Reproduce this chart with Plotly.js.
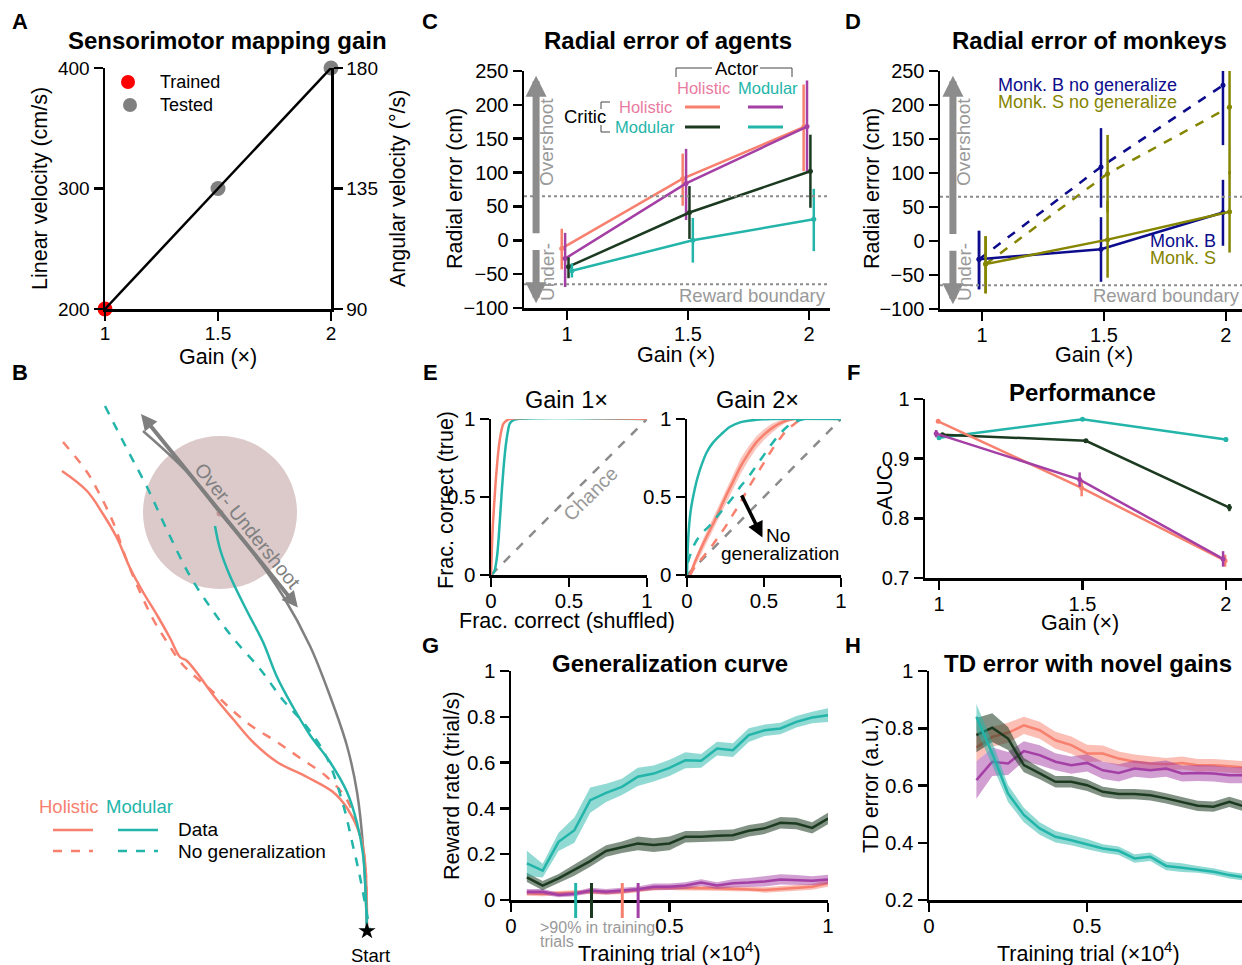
<!DOCTYPE html>
<html><head><meta charset="utf-8">
<script src="https://cdn.plot.ly/plotly-3.0.1.min.js"></script>
<style>body{margin:0;background:#fff}#plot{width:1242px;height:965px}</style>
</head><body><div id="plot"></div>
<script>
// ================= DATA =================
// Panel A
const gainA = [1, 1.5, 2];
const linVel = [200, 300, 400];
const angVel = [90, 135, 180];
const trainedGain = [1], trainedVel = [200];
const testedGain = [1.5, 2], testedVel = [300, 400];

// Panel B (trajectories, figure pixel space)
const holDataX = [62,87,103,117,130,143,157,170,180,187,217,233,253,277,307,333,347,360,365,367];
const holDataY = [471,491,514,538,568,592,615,638,657,661,700,719,742,762,777,792,808,835,862,931];
const holNoGenX = [63,87,100,113,127,140,153,167,183,213,233,253,277,300,327,347,360,365,367];
const holNoGenY = [442,472,495,522,561,592,619,642,665,692,711,727,742,758,777,800,835,862,931];
const modDataX = [215,220,230,247,263,277,293,310,330,347,357,363,367];
const modDataY = [526,549,576,611,642,677,707,735,762,792,823,854,931];
const modNoGenX = [105,127,147,167,190,213,233,260,283,307,327,343,353,360,370];
const modNoGenY = [406,449,487,530,576,611,638,669,700,727,758,804,846,877,931];
const targetX = [143,187,220,253,283,310,330,347,357,363,367];
const targetY = [431,472,513,553,596,646,696,746,792,846,931];

// Panel C: radial error of agents (mean, upper, lower)
const gains = [1, 1.5, 2];
const agHH = [-12, 91, 167], agHH_up = [17, 128, 230], agHH_lo = [-43, 51, 102];
const agMH = [-27, 84, 168], agMH_up = [11, 135, 236], agMH_lo = [-69, 30, 100];
const agHM = [-39, 41, 102], agHM_up = [-25, 80, 156], agHM_lo = [-56, 2, 48];
const agMM = [-45, 0, 31], agMM_up = [-34, 33, 76], agMM_lo = [-55, -33, -16];

// Panel D: monkeys
const mkBnoGen = [-27, 109, 229], mkBnoGen_up = [15, 166, 262], mkBnoGen_lo = [-71, 49, 141];
const mkSnoGen = [-34, 99, 197], mkSnoGen_up = [7, 156, 262], mkSnoGen_lo = [-77, 42, 98];
const mkB = [-27, -12, 42], mkB_up = [15, 35, 90], mkB_lo = [-71, -60, -7];
const mkS = [-34, 2, 43], mkS_up = [7, 59, 103], mkS_lo = [-77, -54, -17];

// Panel E: ROC curves
const g1HolX = [0,0.005,0.01,0.02,0.03,0.04,0.05,0.06,0.07,0.08,0.1,0.12,1];
const g1HolY = [0,0.15,0.28,0.45,0.6,0.72,0.82,0.89,0.94,0.97,0.99,1,1];
const g1ModX = [0,0.02,0.03,0.04,0.05,0.06,0.07,0.08,0.09,0.1,0.11,0.12,0.14,0.17,1];
const g1ModY = [0,0.02,0.06,0.13,0.25,0.4,0.55,0.68,0.79,0.87,0.93,0.97,0.99,1,1];
const g2ModX = [0,0.003,0.01,0.02,0.03,0.05,0.07,0.1,0.13,0.17,0.22,0.28,0.35,0.45,0.55,1];
const g2ModY = [0,0.12,0.27,0.38,0.45,0.55,0.63,0.72,0.79,0.85,0.9,0.95,0.98,0.995,1,1];
const g2HolX = [0.02,0.05,0.1,0.15,0.2,0.25,0.3,0.35,0.4,0.45,0.5,0.55,0.6,0.65,0.7,1];
const g2HolY = [0,0.08,0.19,0.29,0.39,0.5,0.6,0.7,0.78,0.85,0.9,0.94,0.97,0.99,1,1];
const g2HolErr = [0.01,0.02,0.03,0.035,0.04,0.045,0.05,0.05,0.045,0.04,0.035,0.03,0.02,0.01,0.005,0];
const g2ModNoGenX = [0.005,0.05,0.1,0.15,0.2,0.25,0.3,0.35,0.4,0.45,0.5,0.55,0.6,0.65,0.7,0.76,1];
const g2ModNoGenY = [0.08,0.2,0.27,0.32,0.38,0.44,0.5,0.57,0.63,0.7,0.77,0.84,0.9,0.95,0.98,1,1];
const g2HolNoGenX = [0.02,0.05,0.1,0.15,0.2,0.25,0.3,0.35,0.4,0.45,0.5,0.55,0.6,0.65,0.7,0.75,1];
const g2HolNoGenY = [0,0.05,0.11,0.17,0.24,0.31,0.39,0.47,0.56,0.64,0.72,0.8,0.87,0.93,0.97,1,1];
const chance = [0, 1];

// Panel F: AUC
const aucHH = [0.9626, 0.851, 0.729], aucHH_e = [0.002, 0.014, 0.01];
const aucMM = [0.935, 0.966, 0.932], aucMM_e = [0.002, 0.002, 0.004];
const aucHM = [0.94, 0.93, 0.818], aucHM_e = [0.003, 0.003, 0.006];
const aucMH = [0.942, 0.865, 0.732], aucMH_e = [0.006, 0.012, 0.013];

// Panel G: generalization curve
const genX = [0.05,0.1,0.15,0.2,0.25,0.3,0.35,0.4,0.45,0.5,0.55,0.6,0.65,0.7,0.75,0.8,0.85,0.9,0.95,1.0];
const genMM = [0.16,0.128,0.254,0.305,0.436,0.468,0.494,0.538,0.552,0.577,0.61,0.608,0.661,0.654,0.72,0.741,0.749,0.778,0.797,0.807];
const genMM_e = [0.055,0.03,0.04,0.055,0.055,0.04,0.035,0.04,0.035,0.035,0.035,0.03,0.03,0.03,0.03,0.025,0.025,0.025,0.025,0.03];
const genHM = [0.099,0.063,0.094,0.131,0.17,0.214,0.23,0.247,0.24,0.247,0.276,0.276,0.281,0.283,0.302,0.313,0.337,0.334,0.315,0.356];
const genHM_e = [0.02,0.02,0.02,0.025,0.025,0.025,0.025,0.03,0.03,0.03,0.025,0.025,0.025,0.025,0.025,0.025,0.025,0.025,0.025,0.025];
const genMH = [0.036,0.036,0.022,0.026,0.041,0.036,0.041,0.047,0.058,0.058,0.063,0.076,0.063,0.073,0.076,0.081,0.09,0.087,0.084,0.09];
const genMH_e = [0.012,0.012,0.01,0.01,0.012,0.012,0.012,0.012,0.014,0.014,0.015,0.015,0.015,0.018,0.02,0.022,0.022,0.022,0.02,0.02];
const genHH = [0.029,0.026,0.029,0.033,0.036,0.033,0.036,0.044,0.051,0.054,0.051,0.051,0.051,0.048,0.048,0.044,0.048,0.054,0.058,0.073];
const genHH_e = [0.01,0.01,0.01,0.01,0.01,0.01,0.01,0.01,0.01,0.01,0.01,0.01,0.01,0.01,0.01,0.012,0.012,0.012,0.013,0.015];
const thrX = [0.204, 0.254, 0.351, 0.401];   // >90% in training trials: MM, HM, HH, MH

// Panel H: TD error
const tdX = [0.15,0.2,0.25,0.3,0.35,0.4,0.45,0.5,0.55,0.6,0.65,0.7,0.75,0.8,0.85,0.9,0.95,1.0];
const tdMM = [0.84,0.712,0.572,0.497,0.45,0.421,0.409,0.395,0.38,0.372,0.345,0.351,0.319,0.313,0.307,0.299,0.287,0.279];
const tdMM_e = [0.045,0.04,0.03,0.025,0.022,0.02,0.018,0.018,0.015,0.015,0.015,0.015,0.015,0.015,0.012,0.012,0.012,0.012];
const tdHM = [0.776,0.802,0.764,0.671,0.642,0.613,0.613,0.601,0.578,0.57,0.57,0.566,0.555,0.543,0.529,0.526,0.543,0.526];
const tdHM_e = [0.06,0.05,0.04,0.025,0.02,0.02,0.02,0.02,0.018,0.018,0.018,0.018,0.018,0.018,0.018,0.018,0.018,0.018];
const tdHH = [0.733,0.77,0.784,0.81,0.793,0.758,0.741,0.712,0.712,0.694,0.683,0.677,0.674,0.679,0.671,0.671,0.667,0.663];
const tdHH_e = [0.05,0.035,0.035,0.03,0.03,0.03,0.03,0.03,0.028,0.025,0.025,0.025,0.022,0.022,0.022,0.022,0.022,0.022];
const tdMH = [0.619,0.683,0.677,0.72,0.706,0.683,0.671,0.679,0.653,0.644,0.659,0.653,0.659,0.642,0.644,0.642,0.636,0.636];
const tdMH_e = [0.065,0.05,0.04,0.035,0.035,0.03,0.03,0.03,0.03,0.03,0.028,0.028,0.028,0.028,0.028,0.028,0.028,0.028];

// ================= STYLE / HELPERS =================
const W = 1242, H = 965;
const F = 'Liberation Sans, Arial, sans-serif';
const HOL = '#f7806e', MOD = '#23b5aa', PUR = '#a43fa5', GRN = '#1b3a20';
const NAVY = '#0c0c8c', OLIVE = '#858500', GRAY = '#8c8c8c', PINK = '#e97ba0', LTXT = '#999999';
const TT = 21.5;   // axis-title size
const px = x => x / W, py = y => 1 - y / H;
const dx = (a, b) => [a / W, b / W], dy = (t, b) => [1 - b / H, 1 - t / H];

function ax(extra, fs) {
  return Object.assign({showline:true, linecolor:'black', linewidth:2.5, ticks:'outside', ticklen:9,
    tickwidth:2.5, tickcolor:'black', showgrid:false, zeroline:false, fixedrange:true,
    tickfont:{family:F, size:fs || 20, color:'black'}}, extra);
}
function xax(extra, fs) { return ax(Object.assign({ticklabelstandoff: -3}, extra), fs); }
function txt(text, x, y, o) {
  o = o || {};
  return {xref:'paper', yref:'paper', x:px(x), y:py(y), text:text, showarrow:false,
    xanchor:o.xa || 'center', yanchor:o.ya || 'middle', textangle:o.angle || 0,
    font:{family:F, size:o.size || 18, color:o.color || 'black'}};
}
function bold(text, x, y, size) { return txt('<b>' + text + '</b>', x, y, {size: size || 24}); }
function lineP(x0, y0, x1, y1, color, width, dash) {
  return {type:'line', xref:'paper', yref:'paper', x0:px(x0), y0:py(y0), x1:px(x1), y1:py(y1),
    line:{color:color, width:width, dash:dash || 'solid'}};
}
function errTrace(xs, ys, up, lo, xa, ya, color, dash, off) {
  return {x: xs.map(v => v + off), y: ys, xaxis: xa, yaxis: ya, mode: 'lines+markers',
    line: {color: color, width: 2.5, dash: dash || 'solid'}, marker: {color: color, size: 5},
    error_y: {type: 'data', symmetric: false, array: up.map((u, i) => u - ys[i]),
      arrayminus: ys.map((v, i) => v - lo[i]), color: color, thickness: 2.5, width: 0},
    hoverinfo: 'skip'};
}
function symErr(xs, ys, e, xa, ya, color, off) {
  return {x: xs.map(v => v + off), y: ys, xaxis: xa, yaxis: ya, mode: 'lines+markers',
    line: {color: color, width: 2.5}, marker: {color: color, size: 5},
    error_y: {type: 'data', array: e, color: color, thickness: 2.5, width: 0}, hoverinfo: 'skip'};
}
function band(xs, ys, err, xa, ya, color) {
  return {x: xs.concat(xs.slice().reverse()),
    y: ys.map((v, i) => v + err[i]).concat(ys.map((v, i) => v - err[i]).reverse()),
    xaxis: xa, yaxis: ya, fill: 'toself', fillcolor: color, line: {width: 0}, mode: 'lines', hoverinfo: 'skip'};
}
function ln(xs, ys, xa, ya, color, dash, width, shape) {
  return {x: xs, y: ys, xaxis: xa, yaxis: ya, mode: 'lines',
    line: {color: color, width: width || 2.5, dash: dash || 'solid', shape: shape || 'linear'}, hoverinfo: 'skip'};
}
function rgba(hex, a) {
  const n = parseInt(hex.slice(1), 16);
  return 'rgba(' + (n >> 16 & 255) + ',' + (n >> 8 & 255) + ',' + (n & 255) + ',' + a + ')';
}

const traces = [];
// ---- A ----
traces.push({x: trainedGain, y: trainedVel, xaxis:'x', yaxis:'y', mode:'markers', marker:{color:'#ff0000', size:15}, cliponaxis:false});
traces.push({x: testedGain, y: testedVel, xaxis:'x', yaxis:'y', mode:'markers', marker:{color:'#808080', size:15}, cliponaxis:false});
traces.push(ln(gainA, linVel, 'x', 'y', 'black', 'solid', 2.5));
traces.push({x: gainA, y: angVel, xaxis:'x', yaxis:'y2', mode:'lines', line:{color:'rgba(0,0,0,0)', width:0}, hoverinfo:'skip'});

// ---- B ----
traces.push(ln(targetX, targetY, 'x3', 'y3', '#808080', 'solid', 2.5, 'spline'));
traces.push(ln(holNoGenX, holNoGenY, 'x3', 'y3', HOL, 'dash', 2.5, 'spline'));
traces.push(ln(holDataX, holDataY, 'x3', 'y3', HOL, 'solid', 2.5, 'spline'));
traces.push(ln(modNoGenX, modNoGenY, 'x3', 'y3', MOD, 'dash', 2.5, 'spline'));
traces.push(ln(modDataX, modDataY, 'x3', 'y3', MOD, 'solid', 2.5, 'spline'));
traces.push({x:[targetX[2]], y:[targetY[2]], xaxis:'x3', yaxis:'y3', mode:'markers', marker:{color:'#c49494', size:7}});
traces.push({x:[targetX[targetX.length-1]], y:[targetY[targetY.length-1]], xaxis:'x3', yaxis:'y3', mode:'markers', marker:{color:'black', size:13, symbol:'star'}, cliponaxis:false});

// ---- C ----
traces.push(errTrace(gains, agHH, agHH_up, agHH_lo, 'x4', 'y4', HOL, 'solid', -0.022));
traces.push(errTrace(gains, agMH, agMH_up, agMH_lo, 'x4', 'y4', PUR, 'solid', -0.008));
traces.push(errTrace(gains, agHM, agHM_up, agHM_lo, 'x4', 'y4', GRN, 'solid', 0.006));
traces.push(errTrace(gains, agMM, agMM_up, agMM_lo, 'x4', 'y4', MOD, 'solid', 0.02));

// ---- D ----
traces.push(errTrace(gains, mkBnoGen, mkBnoGen_up, mkBnoGen_lo, 'x5', 'y5', NAVY, 'dash', -0.012));
traces.push(errTrace(gains, mkSnoGen, mkSnoGen_up, mkSnoGen_lo, 'x5', 'y5', OLIVE, 'dash', 0.015));
traces.push(errTrace(gains, mkB, mkB_up, mkB_lo, 'x5', 'y5', NAVY, 'solid', -0.012));
traces.push(errTrace(gains, mkS, mkS_up, mkS_lo, 'x5', 'y5', OLIVE, 'solid', 0.015));

// ---- E ----
traces.push(ln(chance, chance, 'x6', 'y6', GRAY, 'dash', 2.5));
traces.push(ln(g1ModX, g1ModY, 'x6', 'y6', MOD, 'solid', 2.5, 'spline'));
traces.push(ln(g1HolX, g1HolY, 'x6', 'y6', HOL, 'solid', 2.5, 'spline'));
traces.push(ln(chance, chance, 'x7', 'y7', GRAY, 'dash', 2.5));
traces.push(band(g2HolX, g2HolY, g2HolErr, 'x7', 'y7', rgba(HOL, 0.45)));
traces.push(ln(g2HolX, g2HolY, 'x7', 'y7', HOL, 'solid', 2.5, 'spline'));
traces.push(ln(g2HolNoGenX, g2HolNoGenY, 'x7', 'y7', HOL, 'dash', 2.5, 'spline'));
traces.push(ln(g2ModNoGenX, g2ModNoGenY, 'x7', 'y7', MOD, 'dash', 2.5, 'spline'));
traces.push(ln(g2ModX, g2ModY, 'x7', 'y7', MOD, 'solid', 2.5, 'spline'));

// ---- F ----
traces.push(symErr(gains, aucMM, aucMM_e, 'x8', 'y8', MOD, 0));
traces.push(symErr(gains, aucHM, aucHM_e, 'x8', 'y8', GRN, 0.012));
traces.push(symErr(gains, aucHH, aucHH_e, 'x8', 'y8', HOL, -0.003));
traces.push(symErr(gains, aucMH, aucMH_e, 'x8', 'y8', PUR, -0.01));

// ---- G ----
[[genHH, genHH_e, HOL], [genMH, genMH_e, PUR], [genHM, genHM_e, GRN], [genMM, genMM_e, MOD]].forEach(s => {
  traces.push(band(genX, s[0], s[1], 'x9', 'y9', rgba(s[2], s[2] === GRN ? 0.55 : 0.5)));
  traces.push(ln(genX, s[0], 'x9', 'y9', s[2], 'solid', 2.5));
});

// ---- H ----
[[tdHH, tdHH_e, HOL], [tdMH, tdMH_e, PUR], [tdHM, tdHM_e, GRN], [tdMM, tdMM_e, MOD]].forEach(s => {
  traces.push(band(tdX, s[0], s[1], 'x10', 'y10', rgba(s[2], s[2] === GRN ? 0.55 : 0.5)));
  traces.push(ln(tdX, s[0], 'x10', 'y10', s[2], 'solid', 2.5));
});

// ================= LAYOUT =================
const t3 = [1, 1.5, 2], t3l = ['1', '1.5', '2'];
const radTicks = [-100,-50,0,50,100,150,200,250];
const radText = ['\u2212100','\u221250','0','50','100','150','200','250'];
const layout = {
  width: W, height: H, margin: {l:0, r:0, t:0, b:0}, showlegend: false,
  paper_bgcolor: 'white', plot_bgcolor: 'rgba(0,0,0,0)', font: {family: F},
  xaxis: xax({domain: dx(105, 331), range: [1, 2], tickvals: t3, ticktext: t3l, anchor: 'y'}, 19),
  yaxis: ax({domain: dy(68, 309), range: [200, 400], tickvals: [200, 300, 400], anchor: 'x'}, 19),
  yaxis2: ax({overlaying: 'y', side: 'right', anchor: 'x', range: [90, 180], tickvals: [90, 135, 180]}, 19),
  xaxis3: {domain: dx(0, 420), range: [0, 420], visible: false, anchor: 'y3', fixedrange: true},
  yaxis3: {domain: dy(380, 965), range: [965, 380], visible: false, anchor: 'x3', fixedrange: true},
  xaxis4: xax({domain: dx(524, 830), range: [0.822, 2.087], tickvals: t3, ticktext: t3l, anchor: 'y4'}),
  yaxis4: ax({domain: dy(71, 308), range: [-100, 250], tickvals: radTicks, ticktext: radText, anchor: 'x4'}),
  xaxis5: xax({domain: dx(940, 1242), range: [0.828, 2.066], tickvals: t3, ticktext: t3l, anchor: 'y5'}),
  yaxis5: ax({domain: dy(71, 309), range: [-100, 250], tickvals: radTicks, ticktext: radText, anchor: 'x5'}),
  xaxis6: xax({domain: dx(491, 647), range: [0, 1], tickvals: [0, 0.5, 1], ticktext: ['0','0.5','1'], anchor: 'y6'}, 20.5),
  yaxis6: ax({domain: dy(419, 575), range: [0, 1], tickvals: [0, 0.5, 1], ticktext: ['0','0.5','1'], anchor: 'x6'}, 20.5),
  xaxis7: xax({domain: dx(687, 841), range: [0, 1], tickvals: [0, 0.5, 1], ticktext: ['0','0.5','1'], anchor: 'y7'}, 20.5),
  yaxis7: ax({domain: dy(419, 575), range: [0, 1], tickvals: [0, 0.5, 1], ticktext: ['0','0.5','1'], anchor: 'x7'}, 20.5),
  xaxis8: xax({domain: dx(925, 1242), range: [0.951, 2.056], tickvals: t3, ticktext: t3l, anchor: 'y8'}),
  yaxis8: ax({domain: dy(399, 578), range: [0.7, 1], tickvals: [0.7, 0.8, 0.9, 1], ticktext: ['0.7','0.8','0.9','1'], anchor: 'x8'}),
  xaxis9: xax({domain: dx(511, 828), range: [0, 1], tickvals: [0, 0.5, 1], ticktext: ['0','0.5','1'], anchor: 'y9'}, 20.5),
  yaxis9: ax({domain: dy(671, 900), range: [0, 1], tickvals: [0,0.2,0.4,0.6,0.8,1], ticktext: ['0','0.2','0.4','0.6','0.8','1'], anchor: 'x9'}, 20.5),
  xaxis10: xax({domain: dx(929, 1242), range: [0, 0.99], tickvals: [0, 0.5], ticktext: ['0','0.5'], anchor: 'y10'}, 20.5),
  yaxis10: ax({domain: dy(671, 900), range: [0.2, 1], tickvals: [0.2,0.4,0.6,0.8,1], ticktext: ['0.2','0.4','0.6','0.8','1'], anchor: 'x10'}, 20.5),
  shapes: [], annotations: []
};
const S = layout.shapes, A = layout.annotations;

// ---- A annotations ----
A.push(bold('A', 20, 22, 22));
A.push(bold('Sensorimotor mapping gain', 227, 40));
A.push(txt('Linear velocity (cm/s)', 40, 189, {angle: -90, size: TT}));
A.push(txt('Angular velocity (°/s)', 398, 189, {angle: -90, size: TT}));
A.push(txt('Gain (×)', 218, 357, {size: TT}));
[['#ff0000', 128, 82, 'Trained'], ['#808080', 130, 105, 'Tested']].forEach(l => {
  S.push({type:'circle', xref:'paper', yref:'paper', xsizemode:'pixel', ysizemode:'pixel',
    xanchor:px(l[1]), yanchor:py(l[2]), x0:-7, x1:7, y0:-7, y1:7, fillcolor:l[0], line:{width:0}});
  A.push(txt(l[3], 158, l[2], {xa:'left', size:18}));
});

// ---- B ----
A.push(bold('B', 20, 372, 22));
S.push({type:'circle', xref:'x3', yref:'y3', x0:143, x1:297, y0:436, y1:589, fillcolor:'#dccaca', line:{width:0}, layer:'below'});
A.push({xref:'x3', yref:'y3', axref:'x3', ayref:'y3', x:141, y:414, ax:299, ay:609, text:'', showarrow:true,
  arrowhead:2, startarrowhead:2, arrowside:'end+start', arrowsize:0.8, startarrowsize:0.8, arrowwidth:4, arrowcolor:'#7f7f7f'});
A.push(txt('Over- Undershoot', 248, 526, {angle: 51, size: 19.5, color: '#808080'}));
A.push(txt('Start', 370, 955, {size: 18.5}));
A.push(txt('Holistic', 37, 806, {xa:'left', color: HOL, size: 18.5}));
A.push(txt('Modular', 104, 806, {xa:'left', color: MOD, size: 18.5}));
A.push(txt('Data', 176, 829, {xa:'left', size: 19}));
A.push(txt('No generalization', 176, 851, {xa:'left', size: 19}));
S.push(lineP(53, 830, 93, 830, HOL, 2.5));
S.push(lineP(118, 830, 158, 830, MOD, 2.5));
S.push(lineP(53, 851, 93, 851, HOL, 2.5, 'dash'));
S.push(lineP(118, 851, 158, 851, MOD, 2.5, 'dash'));

// ---- C / D common decorations ----
function radialDecor(xa, ya, arrowX, textX, rightPx) {
  [65, -65].forEach(v => S.push({type:'line', xref: xa + ' domain', x0:0, x1:1, yref: ya, y0:v, y1:v,
    line:{color:GRAY, width:2, dash:'dot'}}));
  A.push({xref:xa, yref:ya, axref:xa, ayref:ya, x:arrowX, y:243, ax:arrowX, ay:8, text:'', showarrow:true,
    arrowhead:2, arrowsize:0.6, arrowwidth:7, arrowcolor:GRAY});
  A.push({xref:xa, yref:ya, axref:xa, ayref:ya, x:arrowX, y:-93, ax:arrowX, ay:-12, text:'', showarrow:true,
    arrowhead:2, arrowsize:0.6, arrowwidth:7, arrowcolor:GRAY});
  A.push(txt('Overshoot', textX, 142, {angle:-90, color:LTXT, size:19}));
  A.push(txt('Under-', textX, 272, {angle:-90, color:LTXT, size:19}));
  A.push(txt('Reward boundary', rightPx, 295, {xa:'right', color:LTXT, size:18.5}));
}
A.push(bold('C', 430, 22, 22));
A.push(bold('Radial error of agents', 668, 40));
A.push(txt('Radial error (cm)', 455, 189, {angle:-90, size:TT}));
A.push(txt('Gain (×)', 676, 355, {size:TT}));
radialDecor('x4', 'y4', 0.872, 547, 828);
// C legend
A.push(txt('Actor', 736, 69, {size:18.5}));
S.push(lineP(676, 77, 676, 68, '#444', 1));
S.push(lineP(676, 68, 712, 68, '#444', 1));
S.push(lineP(760, 68, 792, 68, '#444', 1));
S.push(lineP(792, 68, 792, 77, '#444', 1));
A.push(txt('Holistic', 703, 88, {color:PINK, size:16.5}));
A.push(txt('Modular', 768, 88, {color:MOD, size:16.5}));
A.push(txt('Critic', 585, 116, {size:18.5}));
S.push(lineP(601, 102, 610, 102, '#444', 1));
S.push(lineP(601, 102, 601, 109, '#444', 1));
S.push(lineP(601, 125, 601, 132, '#444', 1));
S.push(lineP(601, 132, 610, 132, '#444', 1));
A.push(txt('Holistic', 674, 107, {xa:'right', color:PINK, size:16.5}));
A.push(txt('Modular', 677, 127, {xa:'right', color:MOD, size:16.5}));
S.push(lineP(685, 107, 720, 107, HOL, 3));
S.push(lineP(748, 107, 783, 107, PUR, 3));
S.push(lineP(685, 127, 720, 127, GRN, 3));
S.push(lineP(748, 127, 783, 127, MOD, 3));

// ---- D ----
A.push(bold('D', 853, 22, 22));
A.push(bold('Radial error of monkeys', 1089, 40));
A.push(txt('Radial error (cm)', 872, 189, {angle:-90, size:TT}));
A.push(txt('Gain (×)', 1094, 355, {size:TT}));
radialDecor('x5', 'y5', 0.881, 964, 1242);
A.push(txt('Monk. B no generalize', 996, 85, {xa:'left', color:NAVY, size:18}));
A.push(txt('Monk. S no generalize', 996, 102, {xa:'left', color:OLIVE, size:18}));
A.push(txt('Monk. B', 1218, 241, {xa:'right', color:NAVY, size:18}));
A.push(txt('Monk. S', 1218, 258, {xa:'right', color:OLIVE, size:18}));

// ---- E ----
A.push(bold('E', 430, 372, 22));
A.push(txt('Gain 1×', 566, 400, {size:23.5}));
A.push(txt('Gain 2×', 757, 400, {size:23.5}));
A.push(txt('Frac. correct (true)', 446, 500, {angle:-90, size:TT}));
A.push(txt('Frac. correct (shuffled)', 567, 621, {size:TT}));
A.push(txt('Chance', 590, 494, {angle:-45, color:LTXT, size:19.5}));
A.push({xref:'x7', yref:'y7', axref:'x7', ayref:'y7', x:0.49, y:0.24, ax:0.35, ay:0.52, text:'', showarrow:true,
  arrowhead:2, arrowsize:0.9, arrowwidth:3.5, arrowcolor:'black'});
A.push(txt('No', 778, 535, {size:19}));
A.push(txt('generalization', 780, 553, {size:19}));

// ---- F ----
A.push(bold('F', 853, 372, 22));
A.push(bold('Performance', 1082, 392));
A.push(txt('AUC', 885, 487, {angle:-90, size:TT}));
A.push(txt('Gain (×)', 1080, 623, {size:TT}));

// ---- G ----
A.push(bold('G', 430, 645, 22));
A.push(bold('Generalization curve', 670, 663));
A.push(txt('Reward rate (trial/s)', 452, 786, {angle:-90, size:TT}));
A.push(txt('Training trial (×10<sup>4</sup>)', 670, 952, {size:TT}));
A.push(txt('>90% in training', 538, 927, {xa:'left', color:LTXT, size:16}));
A.push(txt('trials', 538, 941, {xa:'left', color:LTXT, size:16}));
[MOD, GRN, HOL, PUR].forEach((c, i) => S.push({type:'line', xref:'x9', yref:'paper', x0:thrX[i], x1:thrX[i],
  y0:py(918), y1:py(883), line:{color:c, width:3}}));

// ---- H ----
A.push(bold('H', 853, 645, 22));
A.push(bold('TD error with novel gains', 1088, 663));
A.push(txt('TD error (a.u.)', 871, 785, {angle:-90, size:TT}));
A.push(txt('Training trial (×10<sup>4</sup>)', 1088, 952, {size:TT}));

Plotly.newPlot('plot', traces, layout, {staticPlot: true, displayModeBar: false});
</script>
</body></html>
